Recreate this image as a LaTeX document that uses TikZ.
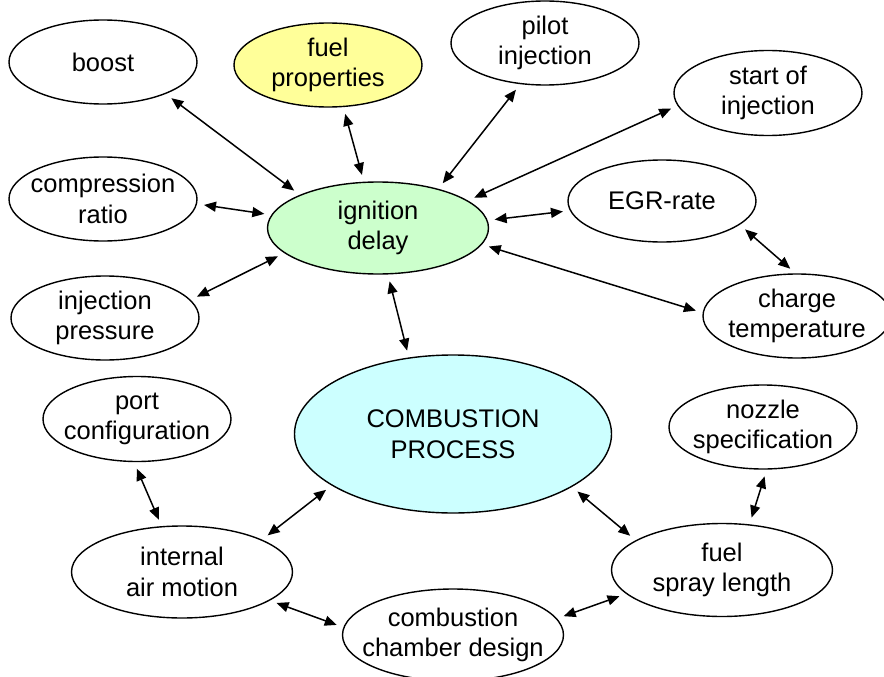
\documentclass[tikz,border=0pt]{standalone}
\usepackage{fontspec}
\setmainfont{Liberation Sans}
\usetikzlibrary{arrows.meta,shapes.geometric}
\definecolor{fuelyellow}{RGB}{255,255,153}
\definecolor{delaygreen}{RGB}{204,255,204}
\definecolor{corecyan}{RGB}{204,255,255}
\tikzset{
  bubble/.style={ellipse,draw=black,line width=1.4pt,fill=white,
                 minimum width=188pt,minimum height=84pt,inner xsep=-16pt,inner ysep=-4pt,
                 align=center,font=\fontsize{25.5}{30.5}\selectfont},
  widebubble/.style={bubble,minimum width=221pt,minimum height=92pt},
  fuelbubble/.style={bubble,fill=fuelyellow},
  delaybubble/.style={widebubble,fill=delaygreen},
  corebubble/.style={bubble,fill=corecyan,minimum width=317pt,minimum height=158pt},
  link/.style={{Triangle[length=12pt,width=10pt]}-{Triangle[length=12pt,width=10pt]},
               line width=1.5pt,shorten <=7pt,shorten >=7pt},
}
\begin{document}
\begin{tikzpicture}[x=1pt,y=-1pt]
  \path[use as bounding box] (0,0) rectangle (884,677);

  % centre of the map
  \node[delaybubble] (delay) at (378,228) {ignition\\delay};
  \node[corebubble] (comb) at (453,434) {COMBUSTION\\PROCESS};

  % influences on the ignition delay
  \node[bubble] (boost) at (103,62) {boost};
  \node[fuelbubble] (fuelprop) at (328,65) {fuel\\properties};
  \node[bubble] (pilot) at (545,43) {pilot\\injection};
  \node[bubble,minimum height=85pt] (soi) at (768,93) {start of\\injection};
  \node[bubble] (compr) at (103,199) {compression\\ratio};
  \node[bubble] (injpress) at (105,318) {injection\\pressure};
  \node[bubble,minimum height=82pt] (egr) at (662,201) {EGR-rate};
  \node[bubble] (chargetemp) at (797,316) {charge\\temperature};

  % influences on the combustion process
  \node[bubble,minimum height=85pt] (port) at (137,419) {port\\configuration};
  \node[widebubble] (airmotion) at (182,572) {internal\\air motion};
  \node[widebubble] (chamber) at (453,635) {combustion\\chamber design};
  \node[bubble] (nozzle) at (763,427) {nozzle\\specification};
  \node[widebubble,minimum height=93pt] (spray) at (722,570) {fuel\\spray length};

  \draw[link] (boost.-27) -- (delay.157);
  \draw[link] (fuelprop.-70) -- (delay.107);
  \draw[link] (pilot.-121) -- (delay.33);
  \draw[link] (soi.-172) -- (delay.17);
  \draw[link] (compr.-3) -- (delay.173);
  \draw[link] (injpress.12) -- (delay.-165);
  \draw[link] (delay.4) -- (egr.-174);
  \draw[link] (delay.-9) -- (chargetemp.178);
  \draw[link] (egr.-17) -- (chargetemp.92);
  \draw[link] (delay.-78) -- (comb.120);

  \draw[link] (port.-94) -- (airmotion.114);
  \draw[link] (airmotion.22) -- (comb.-157);
  \draw[link] (airmotion.-18) -- (chamber.176);
  \draw[link] (comb.-24) -- (spray.161);
  \draw[link] (nozzle.-85) -- (spray.59);
  \draw[link] (chamber.9) -- (spray.-166);
\end{tikzpicture}
\end{document}
